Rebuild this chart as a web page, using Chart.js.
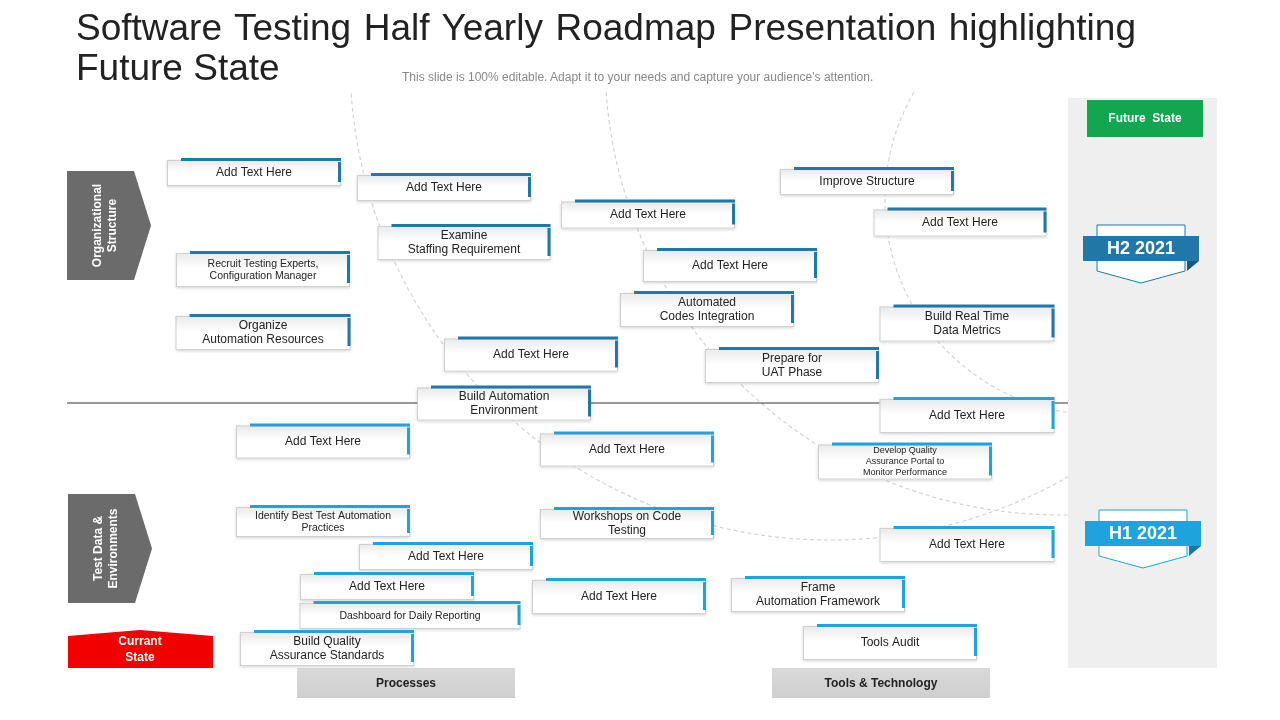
<!DOCTYPE html>
<html>
<head>
<meta charset="utf-8">
<script src="https://cdn.jsdelivr.net/npm/chart.js@4.4.0/dist/chart.umd.min.js"></script>
<style>
  body { margin: 0; background: #fff; font-family: Arial, "Liberation Sans", sans-serif; }
  #wrap { position: relative; width: 1280px; height: 720px; overflow: hidden; }
  canvas { position: absolute; left: 0; top: 0; }
  h1 { position: absolute; left: 76px; top: 8px; margin: 0; width: 1060px; font-weight: normal;
       font-size: 37px; line-height: 40px; color: #222; text-align: justify; text-align-last: left; z-index: 2; }
  .sub { position: absolute; left: 402px; top: 70px; font-size: 12px; color: #888; z-index: 2; }
</style>
</head>
<body>
<div id="wrap">
  <h1>Software Testing Half Yearly Roadmap Presentation highlighting Future State</h1>
  <div class="sub">This slide is 100% editable. Adapt it to your needs and capture your audience's attention.</div>
  <canvas id="roadmap" width="1280" height="720"></canvas>
</div>
<script>
// task boxes: text, centre on the slide grid, width, tier (0 = H2 upper, 1 = H1 lower)
const taskLabels = [
  "Add Text Here", "Add Text Here", "Examine\nStaffing Requirement", "Recruit Testing Experts,\nConfiguration Manager",
  "Organize\nAutomation Resources", "Add Text Here", "Add Text Here", "Automated\nCodes Integration",
  "Add Text Here", "Build Automation\nEnvironment", "Prepare for\nUAT Phase", "Improve Structure",
  "Add Text Here", "Build Real Time\nData Metrics",
  "Add Text Here", "Develop Quality\nAssurance Portal to\nMonitor Performance", "Add Text Here", "Add Text Here",
  "Identify Best Test Automation\nPractices", "Workshops on Code\nTesting", "Add Text Here", "Add Text Here",
  "Add Text Here", "Add Text Here", "Frame\nAutomation Framework", "Dashboard for Daily Reporting",
  "Build Quality\nAssurance Standards", "Tools Audit"
];
const taskX = [254, 444, 464, 263, 263, 648, 730, 707, 531, 504, 792, 867, 960, 967,
               967, 905, 323, 627, 323, 627, 967, 446, 387, 619, 818, 410, 327, 890];
const taskY = [173, 188, 243, 270, 333, 215, 266, 310, 355, 404, 366, 182, 223, 324,
               416, 462, 442, 450, 522, 524, 545, 557, 587, 597, 595, 616, 649, 643];
const taskW = [174, 174, 173, 174, 175, 174, 174, 174, 174, 174, 174, 174, 173, 175,
               175, 174, 174, 174, 174, 174, 175, 174, 174, 174, 174, 221, 174, 174];
const taskH = [26, 26, 34, 34, 34, 27, 32, 34, 33, 33, 34, 26, 27, 35,
               34, 35, 33, 33, 30, 30, 34, 26, 26, 34, 34, 26, 34, 34];
const taskTier = [0,0,0,0,0,0,0,0,0,0,0,0,0,0, 1,1,1,1,1,1,1,1,1,1,1,1,1,1];

const tierColors = ["#1f78a8", "#1ea3dc"];

function pts(tier) {
  return taskX.map((x, i) => ({ x, y: taskY[i], i })).filter(p => taskTier[p.i] === tier);
}

const backdrop = {
  id: "backdrop",
  beforeDatasetsDraw(chart) {
    const c = chart.ctx, sx = chart.scales.x, sy = chart.scales.y;
    const X = v => sx.getPixelForValue(v), Y = v => sy.getPixelForValue(v);
    c.save();
    // right panel
    c.fillStyle = "#efefef";
    c.fillRect(X(1068), Y(98), X(1217) - X(1068), Y(668) - Y(98));
    // dashed arcs
    c.setLineDash([4, 3]);
    c.strokeStyle = "#d4d4d4";
    c.lineWidth = 1.2;
    c.beginPath(); c.rect(X(0), Y(92), X(1068) - X(0), Y(720) - Y(92)); c.clip();
    [[830, 60, 480], [1060, 60, 455], [1100, 200, 215]].forEach(a => {
      c.beginPath(); c.arc(X(a[0]), Y(a[1]), X(a[2]) - X(0), 0, Math.PI * 2); c.stroke();
    });
    c.restore();
    c.save();
    // divider
    c.strokeStyle = "#333"; c.lineWidth = 1;
    c.beginPath(); c.moveTo(X(67), Y(403)); c.lineTo(X(1068), Y(403)); c.stroke();
    c.restore();
  },
  afterDatasetsDraw(chart) {
    const c = chart.ctx, sx = chart.scales.x, sy = chart.scales.y;
    const X = v => sx.getPixelForValue(v), Y = v => sy.getPixelForValue(v);
    c.save();
    chart.data.datasets.forEach((ds, d) => {
      ds.data.forEach(p => {
        const i = p.i, w = taskW[i], h = taskH[i];
        const l = X(p.x - w / 2), t = Y(p.y - h / 2), r = X(p.x + w / 2), b = Y(p.y + h / 2);
        c.shadowColor = "rgba(0,0,0,0.18)"; c.shadowBlur = 3; c.shadowOffsetY = 1;
        const g = c.createLinearGradient(0, t, 0, b);
        g.addColorStop(0, "#e9e9e9"); g.addColorStop(0.45, "#ffffff"); g.addColorStop(1, "#ffffff");
        c.fillStyle = g; c.fillRect(l, t, r - l, b - t);
        c.shadowColor = "transparent";
        c.strokeStyle = "#d0d0d0"; c.lineWidth = 1; c.strokeRect(l + 0.5, t + 0.5, r - l - 1, b - t - 1);
        c.fillStyle = tierColors[d];
        c.fillRect(l + 14, t - 2, r - l - 14, 3);
        c.fillRect(r - 3, t + 2, 3, b - t - 6);
        const lines = taskLabels[i].split("\n");
        const fs = lines.length > 2 ? 9 : (w > 200 || lines[0].length > 22 ? 10.5 : 12);
        c.font = fs + "px Arial, 'Liberation Sans', sans-serif";
        c.fillStyle = "#222"; c.textAlign = "center"; c.textBaseline = "middle";
        const lh = fs + 2;
        lines.forEach((ln, k) => c.fillText(ln, (l + r) / 2, (t + b) / 2 + (k - (lines.length - 1) / 2) * lh));
      });
    });

    // future state tag
    c.fillStyle = "#12a650"; c.fillRect(X(1087), Y(100), X(1203) - X(1087), Y(137) - Y(100));
    c.fillStyle = "#fff"; c.font = "bold 12px Arial, sans-serif"; c.textAlign = "center"; c.textBaseline = "middle";
    c.fillText("Future  State", X(1145), Y(119));

    // half-year badges
    [["H2 2021", 1083, 225, "#1f78a8", "#155a80"], ["H1 2021", 1085, 510, "#1ea3dc", "#137aa8"]].forEach(bd => {
      const bx = X(bd[1]), by = Y(bd[2]);
      c.fillStyle = "#fff"; c.strokeStyle = bd[3]; c.lineWidth = 1;
      c.beginPath(); c.moveTo(bx + 14, by); c.lineTo(bx + 102, by); c.lineTo(bx + 102, by + 46);
      c.lineTo(bx + 58, by + 58); c.lineTo(bx + 14, by + 46); c.closePath(); c.fill(); c.stroke();
      c.fillStyle = bd[3]; c.fillRect(bx, by + 11, 116, 25);
      c.fillStyle = bd[4];
      c.beginPath(); c.moveTo(bx + 104, by + 36); c.lineTo(bx + 116, by + 36); c.lineTo(bx + 104, by + 46); c.fill();
      c.fillStyle = "#fff"; c.font = "bold 18px Arial, sans-serif";
      c.fillText(bd[0], bx + 58, by + 24);
    });

    // left chevrons
    [["Organizational", "Structure", 67, 171, 280], ["Test Data &", "Environments", 68, 494, 603]].forEach(cv => {
      const l = X(cv[2]), t = Y(cv[3]), b = Y(cv[4]);
      c.fillStyle = "#6b6b6b";
      c.beginPath(); c.moveTo(l, t); c.lineTo(l + 67, t); c.lineTo(l + 84, (t + b) / 2);
      c.lineTo(l + 67, b); c.lineTo(l, b); c.closePath(); c.fill();
      c.save(); c.translate(l + 38, (t + b) / 2); c.rotate(-Math.PI / 2);
      c.fillStyle = "#fff"; c.font = "bold 12px Arial, sans-serif";
      c.fillText(cv[0], 0, -7); c.fillText(cv[1], 0, 8);
      c.restore();
    });

    // current state tag
    c.fillStyle = "#f20000";
    c.beginPath(); c.moveTo(X(68), Y(636)); c.lineTo(X(140), Y(630)); c.lineTo(X(213), Y(636));
    c.lineTo(X(213), Y(668)); c.lineTo(X(68), Y(668)); c.closePath(); c.fill();
    c.fillStyle = "#fff"; c.font = "bold 12px Arial, sans-serif";
    c.fillText("Currant", X(140), Y(642)); c.fillText("State", X(140), Y(658));

    // bottom category buttons
    [["Processes", 297, 515], ["Tools & Technology", 772, 990]].forEach(bt => {
      const g = c.createLinearGradient(0, Y(668), 0, Y(698));
      g.addColorStop(0, "#d9d9d9"); g.addColorStop(1, "#cfcfcf");
      c.fillStyle = g; c.fillRect(X(bt[1]), Y(668), X(bt[2]) - X(bt[1]), Y(698) - Y(668));
      c.fillStyle = "#222"; c.font = "bold 12px Arial, sans-serif";
      c.fillText(bt[0], X((bt[1] + bt[2]) / 2), Y(684));
    });
    c.restore();
  }
};

new Chart(document.getElementById("roadmap"), {
  type: "scatter",
  data: {
    datasets: [
      { label: "H2 2021", data: pts(0), pointRadius: 0 },
      { label: "H1 2021", data: pts(1), pointRadius: 0 }
    ]
  },
  options: {
    responsive: false,
    animation: false,
    layout: { padding: 0 },
    plugins: { legend: { display: false }, tooltip: { enabled: false } },
    scales: {
      x: { type: "linear", min: 0, max: 1280, display: false },
      y: { type: "linear", min: 0, max: 720, reverse: true, display: false }
    }
  },
  plugins: [backdrop]
});
</script>
</body>
</html>
